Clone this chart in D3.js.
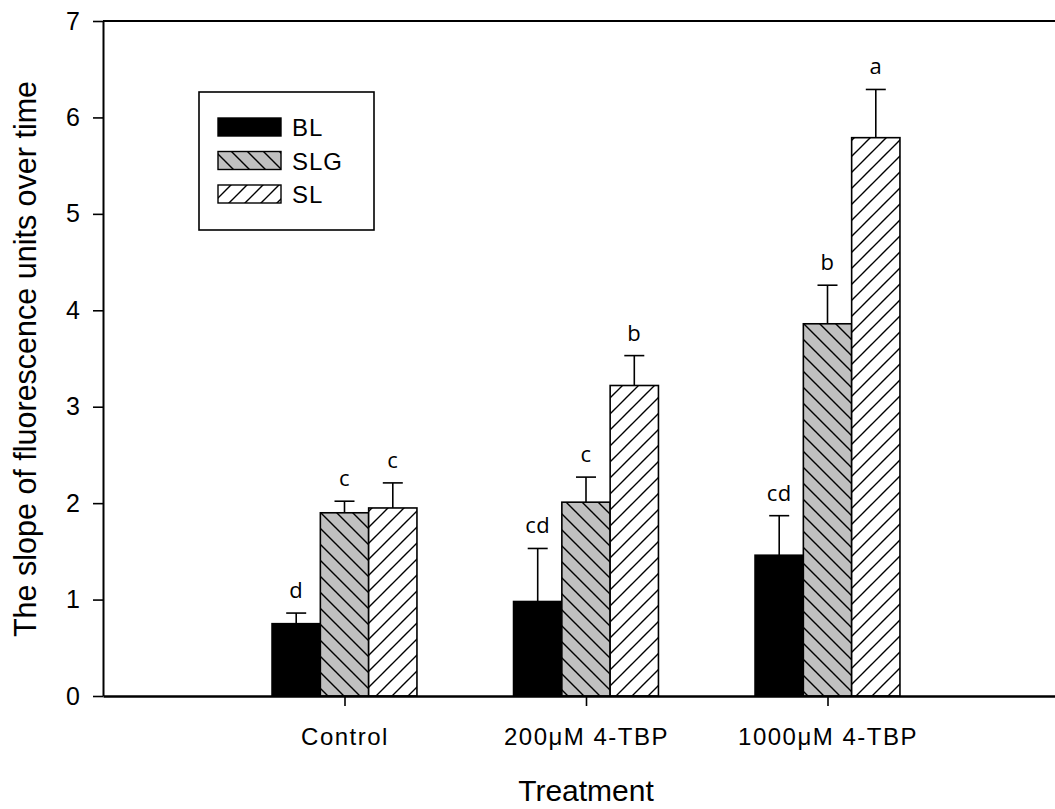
<!DOCTYPE html>
<html><head><meta charset="utf-8">
<script src="https://cdn.jsdelivr.net/npm/d3@7"></script>
<style>body{margin:0;background:#fff}svg{display:block}</style>
</head><body>
<svg id="chart" width="1055" height="809"></svg>
<script>
const categories = ["Control", "200μM 4-TBP", "1000μM 4-TBP"];
const seriesNames = ["BL", "SLG", "SL"];
const blValues = [0.75, 0.98, 1.46];
const slgValues = [1.90, 2.01, 3.86];
const slValues = [1.95, 3.22, 5.79];
const blErr = [0.11, 0.55, 0.41];
const slgErr = [0.12, 0.26, 0.40];
const slErr = [0.26, 0.31, 0.50];
const blLetters = ["d", "cd", "cd"];
const slgLetters = ["c", "c", "b"];
const slLetters = ["c", "b", "a"];
const yTicks = [0, 1, 2, 3, 4, 5, 6, 7];

const series = [
  {name: seriesNames[0], values: blValues, err: blErr, letters: blLetters, fill: "#000"},
  {name: seriesNames[1], values: slgValues, err: slgErr, letters: slgLetters, fill: "url(#hatchBack)"},
  {name: seriesNames[2], values: slValues, err: slErr, letters: slLetters, fill: "url(#hatchFwd)"}
];

const svg = d3.select("#chart");
const x = d3.scaleLinear().domain([0, 4]).range([103, 1069]);
const y = d3.scaleLinear().domain([0, 7]).range([696, 21]);
const barW = x(0.2) - x(0);

const defs = svg.append("defs");
const pb = defs.append("pattern").attr("id", "hatchBack").attr("patternUnits", "userSpaceOnUse")
  .attr("width", 16).attr("height", 16);
pb.append("rect").attr("width", 16).attr("height", 16).attr("fill", "#c0c0c0");
pb.append("path").attr("d", "M0,0 L16,16 M-4,12 L4,20 M12,-4 L20,4").attr("stroke", "#000").attr("stroke-width", 1.4);
const pf = defs.append("pattern").attr("id", "hatchFwd").attr("patternUnits", "userSpaceOnUse")
  .attr("width", 16).attr("height", 16);
pf.append("rect").attr("width", 16).attr("height", 16).attr("fill", "#fff");
pf.append("path").attr("d", "M0,16 L16,0 M-4,4 L4,-4 M12,20 L20,12").attr("stroke", "#000").attr("stroke-width", 1.4);

// top frame line
svg.append("line").attr("x1", x(0)).attr("x2", 1055).attr("y1", y(7)).attr("y2", y(7))
  .attr("stroke", "#000").attr("stroke-width", 2);

// bars
series.forEach((s, si) => {
  const g = svg.append("g");
  s.values.forEach((v, ci) => {
    const cx = x(ci + 1) + (si - 1) * barW;
    const x0 = cx - barW / 2;
    g.append("line").attr("x1", cx).attr("x2", cx).attr("y1", y(v)).attr("y2", y(v + s.err[ci]))
      .attr("stroke", "#000").attr("stroke-width", 1.6);
    g.append("line").attr("x1", cx - 10).attr("x2", cx + 10).attr("y1", y(v + s.err[ci])).attr("y2", y(v + s.err[ci]))
      .attr("stroke", "#000").attr("stroke-width", 1.6);
    g.append("rect").attr("x", x0).attr("y", y(v)).attr("width", barW).attr("height", y(0) - y(v))
      .attr("fill", s.fill).attr("stroke", "#000").attr("stroke-width", 1.6);
    g.append("text").attr("x", cx).attr("y", y(v + s.err[ci]) - 15)
      .attr("text-anchor", "middle").attr("font-family", "Open Sans").attr("font-size", 22)
      .attr("letter-spacing", 0.5).text(s.letters[ci]);
  });
});

// axes
const yAxis = d3.axisLeft(y).tickValues(yTicks).tickSize(10).tickSizeOuter(0).tickPadding(13).tickFormat(d3.format("d"));
const gy = svg.append("g").attr("transform", `translate(${x(0)},0)`).call(yAxis);
gy.select(".domain").attr("stroke-width", 2);
gy.selectAll(".tick line").attr("stroke-width", 1.6);
gy.selectAll("text").attr("font-family", "Liberation Sans").attr("font-size", 25).attr("fill", "#000");

const xAxis = d3.axisBottom(x).tickValues([1, 2, 3]).tickSize(10).tickSizeOuter(0)
  .tickFormat((d) => categories[d - 1]);
const gx = svg.append("g").attr("transform", `translate(0,${y(0)})`).call(xAxis);
gx.select(".domain").attr("stroke-width", 2.4);
gx.selectAll(".tick line").attr("stroke-width", 1.6);
gx.selectAll("text").attr("y", 49).attr("dy", null).attr("font-family", "Liberation Sans")
  .attr("font-size", 24).attr("letter-spacing", 1.5).attr("fill", "#000");

// axis titles
svg.append("text").attr("transform", `translate(36,359) rotate(-90)`).attr("text-anchor", "middle")
  .attr("font-family", "Liberation Sans").attr("font-size", 30.5).text("The slope of fluorescence units over time");
svg.append("text").attr("x", x(2)).attr("y", 801).attr("text-anchor", "middle")
  .attr("font-family", "Liberation Sans").attr("font-size", 30).text("Treatment");

// legend
const lg = svg.append("g");
lg.append("rect").attr("x", 199).attr("y", 92).attr("width", 175).attr("height", 138)
  .attr("fill", "#fff").attr("stroke", "#000").attr("stroke-width", 1.6);
series.forEach((s, i) => {
  const cy = 127 + i * 33.5;
  lg.append("rect").attr("x", 218).attr("y", cy - 9).attr("width", 63).attr("height", 18)
    .attr("fill", s.fill).attr("stroke", "#000").attr("stroke-width", 1.4);
  lg.append("text").attr("x", 292).attr("y", cy + 9).attr("font-family", "Liberation Sans")
    .attr("font-size", 24).attr("letter-spacing", 1).text(s.name);
});
</script>
</body></html>
